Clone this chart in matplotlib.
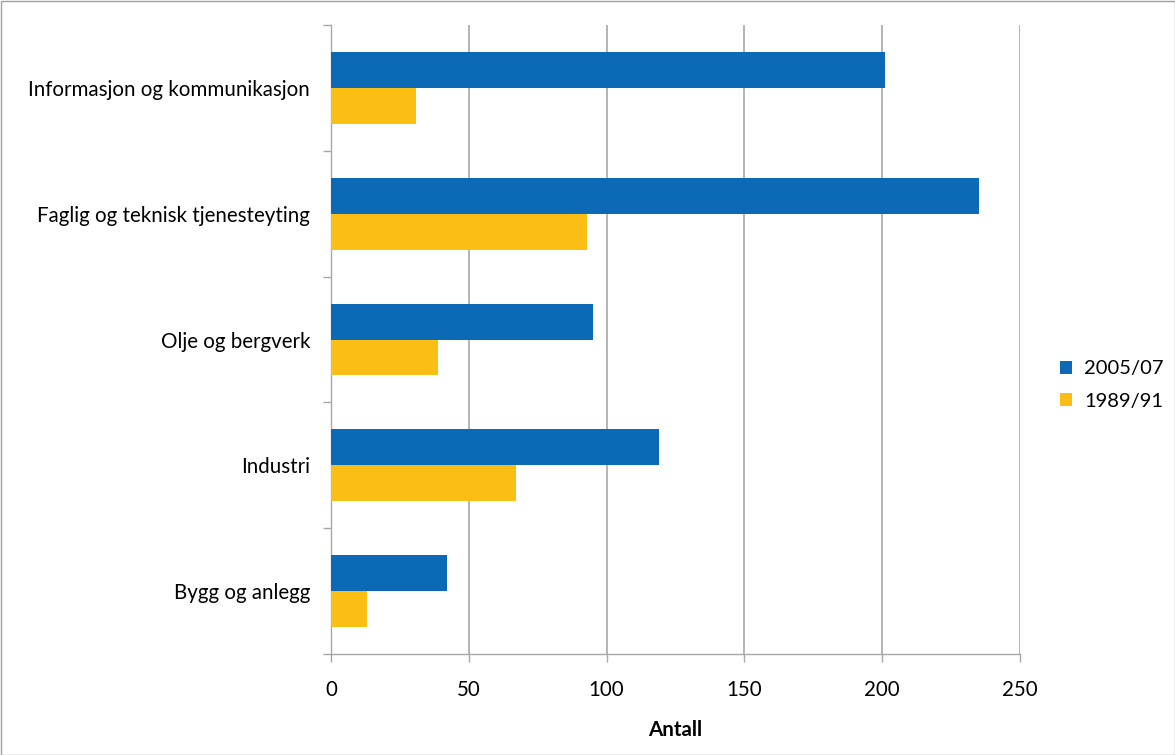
import matplotlib
matplotlib.use("Agg")
import matplotlib.pyplot as plt
import numpy as np
from matplotlib.patches import Rectangle

categories = ["Informasjon og kommunikasjon", "Faglig og teknisk tjenesteyting",
              "Olje og bergverk", "Industri", "Bygg og anlegg"]
series_names = ["2005/07", "1989/91"]
values_2005 = [201, 235, 95, 119, 42]
values_1989 = [31, 93, 39, 67, 13]
xticks = [0, 50, 100, 150, 200, 250]

plt.rcParams['font.family'] = ['Lato', 'DejaVu Sans']
blue = "#0B69B5"
yellow = "#FBBE14"
gridc = "#A8A8A8"
fs = 14.8

fig = plt.figure(figsize=(11.75, 7.55), dpi=100)
ax = fig.add_axes([331/1175, 1-654/755, (1020-331)/1175, (654-25)/755])

n = len(categories)
pos = np.arange(n)[::-1]  # top category first
h = 0.285
ax.barh(pos + h/2, values_2005, height=h, color=blue, label=series_names[0], zorder=3)
ax.barh(pos - h/2, values_1989, height=h, color=yellow, label=series_names[1], zorder=3)

ax.set_xlim(0, 250)
ax.set_ylim(-0.5, n - 0.5)
ax.set_xticks(xticks)
ax.set_xticklabels([str(t) for t in xticks], fontsize=fs)
ax.set_yticks(pos)
ax.set_yticklabels(categories, fontsize=fs)
ax.tick_params(axis='y', length=0, pad=15)
ax.set_yticks(np.arange(-0.5, n, 1.0), minor=True)
ax.tick_params(axis='y', which='minor', length=6, color=gridc, width=1)
ax.tick_params(axis='x', length=6, color=gridc, width=1, pad=13, direction='out')
ax.xaxis.grid(True, color=gridc, linewidth=1.2, zorder=0)
ax.set_axisbelow(True)
for s in ['top', 'right']:
    ax.spines[s].set_visible(False)
for s in ['left', 'bottom']:
    ax.spines[s].set_color(gridc)
    ax.spines[s].set_linewidth(1)
ax.set_xlabel("Antall", fontsize=fs, fontweight='bold', labelpad=14)

leg = fig.legend(loc='center left', bbox_to_anchor=(1060/1175, 1-385/755), frameon=False,
                 fontsize=14.5, handlelength=0.6, handleheight=0.6, handletextpad=0.6,
                 labelspacing=0.75, borderpad=0, borderaxespad=0)

fig.patches.append(Rectangle((0.5/1175, 0.5/755), 1-1/1175, 1-1/755, transform=fig.transFigure,
                             fill=False, edgecolor="#A0A0A0", linewidth=1))

fig.savefig("out.png", dpi=100)
